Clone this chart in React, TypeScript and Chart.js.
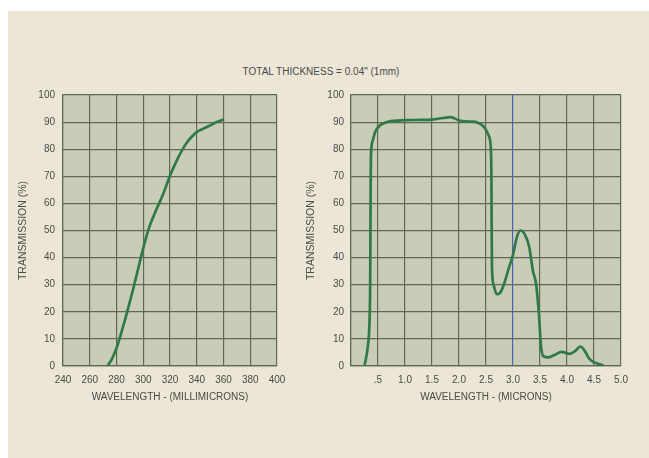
import React, { useEffect, useRef } from "react";
import { Chart, registerables } from "chart.js";

Chart.register(...registerables);

const titleText = 'TOTAL THICKNESS = 0.04" (1mm)';
const yTitle = "TRANSMISSION (%)";
const uvTitle = "WAVELENGTH - (MILLIMICRONS)";
const irTitle = "WAVELENGTH - (MICRONS)";

// UV region: wavelength (millimicrons) vs transmission (%)
const uvWave = [273.3, 277, 280.3, 284, 288, 292, 296, 300, 304, 309, 315, 320.1, 325.1, 331.3, 336, 340, 345, 350, 355, 360.4];
const uvTrans = [0, 3, 7, 13, 20, 27.5, 35.5, 43.5, 50.5, 56.8, 63.6, 70.4, 75.9, 81.5, 84.5, 86.3, 87.6, 88.8, 90, 91];

// IR region: wavelength (microns) vs transmission (%)
const irWave = [0.25, 0.31, 0.34, 0.355, 0.36, 0.365, 0.37, 0.4, 0.45, 0.55, 0.7, 1.0, 1.3, 1.5, 1.7, 1.85, 2.0, 2.2, 2.35, 2.47, 2.55, 2.59, 2.6, 2.605, 2.61, 2.64, 2.7, 2.76, 2.83, 2.92, 3.0, 3.07, 3.14, 3.22, 3.3, 3.37, 3.43, 3.48, 3.52, 3.57, 3.66, 3.76, 3.9, 4.05, 4.15, 4.25, 4.33, 4.42, 4.55, 4.68];
const irTrans = [0, 7, 15, 30, 50, 70, 78, 83, 86.5, 89, 90.2, 90.7, 90.8, 90.9, 91.5, 91.8, 90.6, 90.2, 89.8, 88, 85, 80, 70, 50, 37, 30, 26.5, 27, 30, 36, 41, 47.5, 50, 48.5, 44, 35, 30, 19, 7, 3.5, 3.2, 4, 5.2, 4.5, 5.5, 7.2, 5.5, 2.5, 1, 0.2];

const yTicks = [0, 10, 20, 30, 40, 50, 60, 70, 80, 90, 100];
const uvTicks = [240, 260, 280, 300, 320, 340, 360, 380, 400];
const irTicks = [0, 0.5, 1.0, 1.5, 2.0, 2.5, 3.0, 3.5, 4.0, 4.5, 5.0];

const FONT = "'Liberation Sans', Arial, Helvetica, sans-serif";
const GRID = "#5f685a";
const PLOT_BG = "#c9cdb7";
const LINE = "#2f7a46";
const TEXT = "#4a4a48";

const plotBg = {
  id: "plotBg",
  beforeDraw(chart: any) {
    const { ctx, chartArea } = chart;
    if (!chartArea) return;
    ctx.save();
    ctx.fillStyle = PLOT_BG;
    ctx.fillRect(chartArea.left, chartArea.top, chartArea.right - chartArea.left, chartArea.bottom - chartArea.top);
    ctx.restore();
  },
};

function makeConfig(opts: {
  xs: number[];
  ys: number[];
  xMin: number;
  xMax: number;
  xTicks: number[];
  xFmt: (v: number) => string;
  xTitle: string;
  yWidth: number;
  yTitlePad: number;
  yTickPad: number;
  rightPad: number;
  highlight?: number;
}): any {
  const data = opts.xs.map((x, i) => ({ x, y: opts.ys[i] }));
  return {
    type: "scatter",
    data: {
      datasets: [
        {
          data,
          showLine: true,
          borderColor: LINE,
          borderWidth: 2.7,
          pointRadius: 0,
          cubicInterpolationMode: "monotone",
          fill: false,
        },
      ],
    },
    options: {
      animation: false,
      responsive: false,
      maintainAspectRatio: false,
      layout: { padding: { top: 95, right: opts.rightPad, left: 0, bottom: 0 } },
      plugins: { legend: { display: false }, tooltip: { enabled: false }, title: { display: false } },
      scales: {
        x: {
          type: "linear",
          min: opts.xMin,
          max: opts.xMax,
          afterBuildTicks: (scale: any) => {
            scale.ticks = opts.xTicks.map((v) => ({ value: v }));
          },
          afterFit: (scale: any) => {
            scale.height = 92;
          },
          grid: {
            color: (ctx: any) =>
              opts.highlight !== undefined && ctx.tick && Math.abs(ctx.tick.value - opts.highlight) < 1e-6 ? "#4a63b5" : GRID,
            lineWidth: 1.2,
            drawTicks: false,
          },
          border: { display: true, color: GRID, width: 1.2 },
          ticks: {
            autoSkip: false,
            maxRotation: 0,
            padding: 8,
            color: TEXT,
            font: { family: FONT, size: 10 },
            callback: (v: any) => opts.xFmt(Number(v)),
          },
          title: {
            display: true,
            text: opts.xTitle,
            color: TEXT,
            font: { family: FONT, size: 10 },
            padding: { top: 0, bottom: 55 },
          },
        },
        y: {
          type: "linear",
          min: 0,
          max: 100,
          afterBuildTicks: (scale: any) => {
            scale.ticks = yTicks.map((v) => ({ value: v }));
          },
          afterFit: (scale: any) => {
            scale.width = opts.yWidth;
          },
          grid: { color: GRID, lineWidth: 1.2, drawTicks: false },
          border: { display: true, color: GRID, width: 1.2 },
          ticks: {
            padding: opts.yTickPad,
            color: TEXT,
            font: { family: FONT, size: 10 },
          },
          title: {
            display: true,
            text: yTitle,
            color: TEXT,
            font: { family: FONT, size: 10.5 },
            padding: { top: opts.yTitlePad, bottom: 0 },
          },
        },
      },
    },
    plugins: [plotBg],
  };
}

export default function App() {
  const leftRef = useRef<HTMLCanvasElement>(null);
  const rightRef = useRef<HTMLCanvasElement>(null);

  useEffect(() => {
    const left = new Chart(
      leftRef.current as HTMLCanvasElement,
      makeConfig({
        xs: uvWave,
        ys: uvTrans,
        xMin: 240,
        xMax: 400,
        xTicks: uvTicks,
        xFmt: (v) => String(v),
        xTitle: uvTitle,
        yWidth: 63,
        yTitlePad: 17.2,
        yTickPad: 8,
        rightPad: 23,
      })
    );
    const right = new Chart(
      rightRef.current as HTMLCanvasElement,
      makeConfig({
        xs: irWave,
        ys: irTrans,
        xMin: 0,
        xMax: 5,
        xTicks: irTicks,
        xFmt: (v) => (v === 0 ? "" : v === 0.5 ? ".5" : v.toFixed(1)),
        xTitle: irTitle,
        yWidth: 51,
        yTitlePad: 4.7,
        yTickPad: 7,
        rightPad: 28,
        highlight: 3,
      })
    );
    return () => {
      left.destroy();
      right.destroy();
    };
  }, []);

  return (
    <div style={{ position: "absolute", left: 0, top: 0, width: 649, height: 458, background: "#ffffff", overflow: "hidden" }}>
      <div style={{ position: "absolute", left: 8, top: 11, width: 641, height: 447, background: "#ece6d7" }} />
      <div
        style={{
          position: "absolute",
          left: 171,
          top: 66,
          width: 300,
          textAlign: "center",
          fontFamily: FONT,
          fontSize: 10,
          lineHeight: "12px",
          color: TEXT,
        }}
      >
        {titleText}
      </div>
      <canvas ref={leftRef} width={300} height={458} style={{ position: "absolute", left: 0, top: 0, width: 300, height: 458 }} />
      <canvas ref={rightRef} width={349} height={458} style={{ position: "absolute", left: 300, top: 0, width: 349, height: 458 }} />
    </div>
  );
}
